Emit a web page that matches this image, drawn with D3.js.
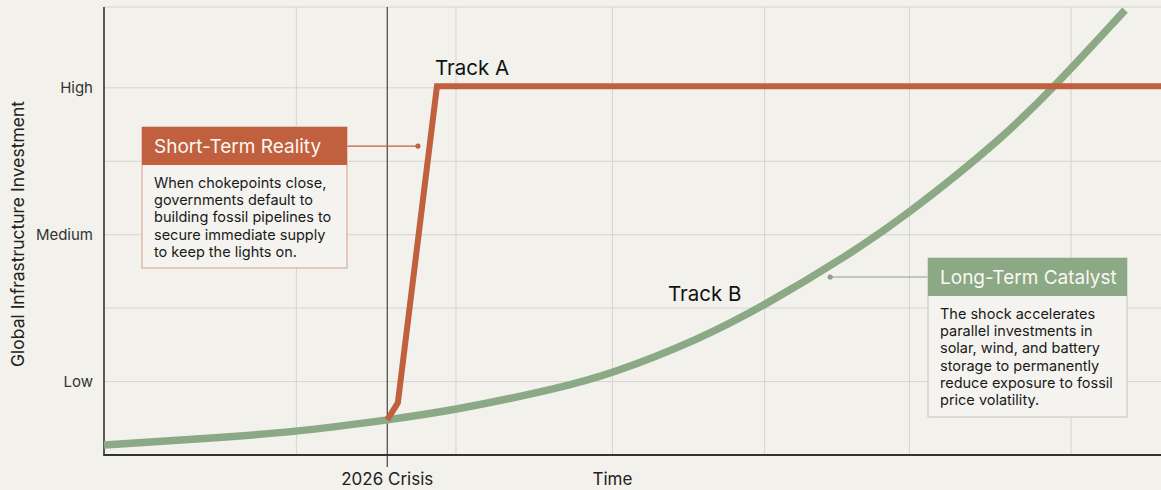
<!DOCTYPE html>
<html>
<head>
<meta charset="utf-8">
<script src="https://cdn.jsdelivr.net/npm/d3@7"></script>
<style>
  html, body { margin: 0; padding: 0; background: #f2f1ec; }
  svg { display: block; font-family: Inter, "Noto Sans", sans-serif; }
</style>
</head>
<body>
<div id="chart"></div>
<script>
// ---- data (time index 0-100, investment level 0.5-3.55) ----
var yTickValues = [1, 2, 3];
var yTickLabels = ["Low", "Medium", "High"];
var yGridValues = [1, 1.5, 2, 2.5, 3, 3.55];
var xGridValues = [18.2, 33.3, 48.1, 62.5, 76.2, 91.5];
var crisisX = 26.8;
var timeLabelX = 48.1;

var trackA = [
  [26.8, 0.74], [27.8, 0.855], [31.5, 3.01], [100, 3.01]
];
var trackB = [
  [0, 0.568], [9.1, 0.609], [18.2, 0.657], [26.8, 0.738], [33.3, 0.806],
  [43.1, 0.956], [48.0, 1.051], [56.4, 1.29], [62.4, 1.514], [70.6, 1.868],
  [76.2, 2.147], [84.8, 2.644], [89.8, 2.998], [96.6, 3.529]
];

var shortTermLines = [
  "When chokepoints close,",
  "governments default to",
  "building fossil pipelines to",
  "secure immediate supply",
  "to keep the lights on."
];
var longTermLines = [
  "The shock accelerates",
  "parallel investments in",
  "solar, wind, and battery",
  "storage to permanently",
  "reduce exposure to fossil",
  "price volatility."
];
var shortTermAnchor = [29.7, 2.603];
var longTermAnchor = [68.7, 1.712];

// ---- layout ----
var W = 1161, H = 490;
var orange = "#c0603e", green = "#8ba985";

var svg = d3.select("#chart").append("svg")
    .attr("width", W).attr("height", H);

svg.append("rect").attr("width", W).attr("height", H).attr("fill", "#f2f1ec");

var x = d3.scaleLinear().domain([0, 100]).range([104, 1161]);
var y = d3.scaleLinear().domain([0.5, 3.55]).range([455, 7]);

// grid
svg.append("g").selectAll("line")
    .data(yGridValues).enter().append("line")
    .attr("x1", x(0)).attr("x2", x(100))
    .attr("y1", function(d) { return y(d); })
    .attr("y2", function(d) { return y(d); })
    .attr("stroke", "#d6d4ce").attr("stroke-width", 1);

svg.append("g").selectAll("line")
    .data(xGridValues).enter().append("line")
    .attr("x1", function(d) { return x(d); })
    .attr("x2", function(d) { return x(d); })
    .attr("y1", y(3.55)).attr("y2", y(0.5))
    .attr("stroke", "#d6d4ce").attr("stroke-width", 1);

// crisis marker
svg.append("line")
    .attr("x1", x(crisisX)).attr("x2", x(crisisX))
    .attr("y1", y(3.55)).attr("y2", y(0.5) + 12)
    .attr("stroke", "#444").attr("stroke-width", 1.2);

// axes
var yAxis = d3.axisLeft(y).tickValues(yTickValues)
    .tickFormat(function(d, i) { return yTickLabels[i]; })
    .tickSize(0).tickPadding(11);
var gy = svg.append("g").attr("transform", "translate(" + x(0) + ",0)").call(yAxis);
gy.select(".domain").remove();
gy.selectAll("text").attr("font-size", 15).attr("fill", "#333")
    .attr("font-family", "Inter, sans-serif");

svg.append("line")
    .attr("x1", x(0)).attr("x2", x(0))
    .attr("y1", y(3.55)).attr("y2", y(0.5))
    .attr("stroke", "#333").attr("stroke-width", 1.6);
svg.append("line")
    .attr("x1", x(0) - 0.8).attr("x2", x(100))
    .attr("y1", y(0.5)).attr("y2", y(0.5))
    .attr("stroke", "#333").attr("stroke-width", 1.8);

svg.append("text")
    .attr("transform", "translate(24," + ((y(0.5) + y(3.55)) / 2 + 3) + ") rotate(-90)")
    .attr("text-anchor", "middle")
    .attr("font-size", 17.5).attr("fill", "#222")
    .text("Global Infrastructure Investment");

svg.append("text")
    .attr("x", x(crisisX)).attr("y", 485)
    .attr("text-anchor", "middle").attr("font-size", 17).attr("fill", "#222")
    .text("2026 Crisis");
svg.append("text")
    .attr("x", x(timeLabelX)).attr("y", 485)
    .attr("text-anchor", "middle").attr("font-size", 17).attr("fill", "#222")
    .text("Time");

// lines
var lineB = d3.line()
    .x(function(d) { return x(d[0]); })
    .y(function(d) { return y(d[1]); })
    .curve(d3.curveBasis);
var lineA = d3.line()
    .x(function(d) { return x(d[0]); })
    .y(function(d) { return y(d[1]); });

svg.append("path")
    .datum(trackB)
    .attr("d", lineB)
    .attr("fill", "none").attr("stroke", green).attr("stroke-width", 7.5);

svg.append("path")
    .datum(trackA)
    .attr("d", lineA)
    .attr("fill", "none").attr("stroke", orange).attr("stroke-width", 6)
    .attr("stroke-linejoin", "miter");

svg.append("text").attr("x", 435).attr("y", 75)
    .attr("font-size", 20.5).attr("fill", "#111").text("Track A");
svg.append("text").attr("x", 668).attr("y", 301)
    .attr("font-size", 20.5).attr("fill", "#111").text("Track B");

// annotation boxes
function callout(opts) {
    var g = svg.append("g");
    var ax = x(opts.anchor[0]), ay = y(opts.anchor[1]);
    var edge = opts.side === "left" ? opts.left + opts.width : opts.left;
    g.append("line")
        .attr("x1", edge).attr("x2", ax).attr("y1", ay).attr("y2", ay)
        .attr("stroke", opts.lineColor).attr("stroke-width", 1.2);
    g.append("circle").attr("cx", ax).attr("cy", ay).attr("r", 2.6)
        .attr("fill", opts.lineColor);

    g.append("rect")
        .attr("x", opts.left).attr("y", opts.top)
        .attr("width", opts.width).attr("height", opts.height)
        .attr("fill", "#f4f3ef").attr("stroke", opts.border).attr("stroke-width", 1.2);
    g.append("rect")
        .attr("x", opts.left).attr("y", opts.top)
        .attr("width", opts.width).attr("height", 38)
        .attr("fill", opts.color);
    g.append("text")
        .attr("x", opts.left + 12).attr("y", opts.top + 26)
        .attr("font-size", 19).attr("fill", "#fbf7f2")
        .text(opts.title);
    g.append("g").selectAll("text")
        .data(opts.lines).enter().append("text")
        .attr("x", opts.left + 12)
        .attr("y", function(d, i) { return opts.top + 61 + i * 17.2; })
        .attr("font-size", 14.5).attr("fill", "#1a1a1a")
        .text(function(d) { return d; });
}

callout({
    left: 142, top: 127, width: 205, height: 141,
    color: orange, border: "#d9ad9a", lineColor: orange, side: "left",
    title: "Short-Term Reality", lines: shortTermLines, anchor: shortTermAnchor
});
callout({
    left: 928, top: 258, width: 199, height: 159,
    color: green, border: "#c9cec3", lineColor: "#8f9e8a", side: "right",
    title: "Long-Term Catalyst", lines: longTermLines, anchor: longTermAnchor
});
</script>
</body>
</html>
